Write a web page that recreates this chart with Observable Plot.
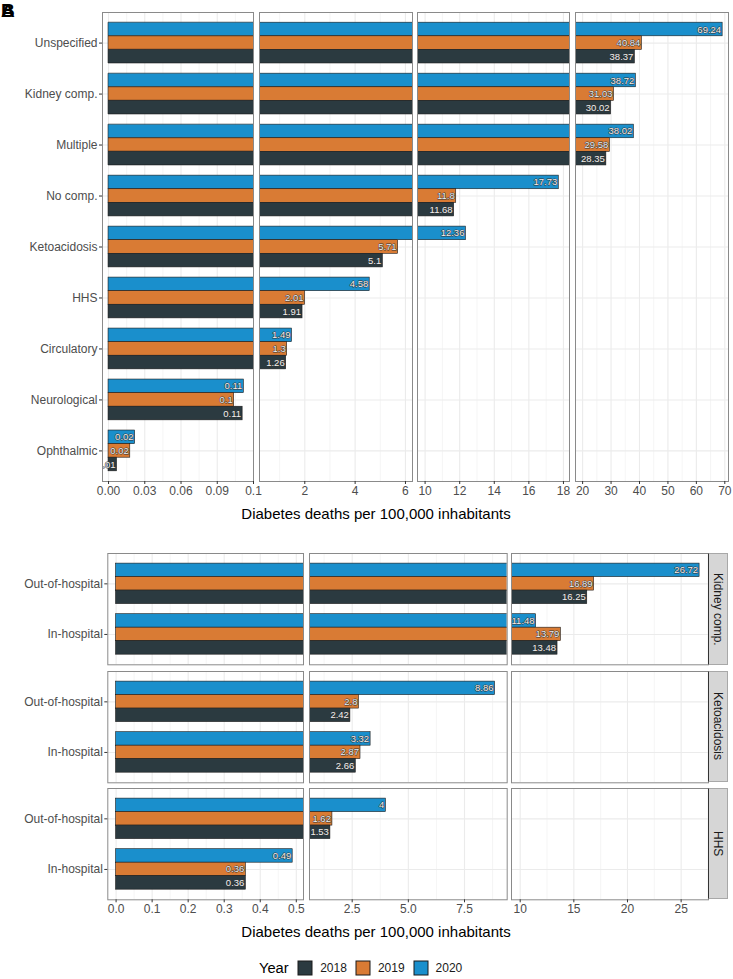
<!DOCTYPE html>
<html>
<head>
<meta charset="utf-8">
<script src="https://cdn.jsdelivr.net/npm/d3@7"></script>
<script src="https://cdn.jsdelivr.net/npm/@observablehq/plot@0.6"></script>
<style>
  body { margin: 0; background: #fff; font-family: "Liberation Sans", Arial, sans-serif; }
  #root { position: relative; width: 733px; height: 979px; overflow: hidden; }
  .title { position: absolute; font-size: 15px; color: #000; white-space: nowrap; line-height: 18px; }
  .tag { position: absolute; left: 1px; top: 1px; font-weight: bold; font-size: 19px; line-height: 19px; color: #000; }
  .strip { position: absolute; background: #d6d6d6; border: 1px solid #a8a8a8; border-left: 1px solid #333; box-sizing: border-box;
           writing-mode: vertical-rl; display: flex; align-items: center; justify-content: center; font-size: 12px; color: #1a1a1a; }
  .legendrow { position: absolute; left: 259px; top: 960px; display: flex; align-items: center; height: 16px; }
  .legendrow .ytitle { font-size: 14.7px; color: #000; margin-right: 9.5px; }
  .lg-swatches { font-family: "Liberation Sans", Arial, sans-serif !important; font-size: 12px !important; color: #1a1a1a !important; margin: 0 !important; min-height: 0 !important; }
  .lg-swatch { margin-right: 9px !important; }
  .lg-swatch > svg { margin-right: 8px !important; }
  .lg-swatch rect { stroke: #1a1a1a; stroke-width: 1; }
</style>
</head>
<body>
<div id="root"></div>
<script>
// ---------------- data ----------------
const years = ["2018", "2019", "2020"];
const yearColors = ["#2b3a40", "#d97b34", "#1a8fcc"];
const yearOrderTopDown = ["2020", "2019", "2018"];

// Panel A: deaths by complication
const causes = ["Unspecified", "Kidney comp.", "Multiple", "No comp.", "Ketoacidosis", "HHS", "Circulatory", "Neurological", "Ophthalmic"];
const causes2018 = [38.37, 30.02, 28.35, 11.68, 5.1, 1.91, 1.26, 0.111, 0.007];
const causes2019 = [40.84, 31.03, 29.58, 11.8, 5.71, 2.01, 1.3, 0.104, 0.018];
const causes2020 = [69.24, 38.72, 38.02, 17.73, 12.36, 4.58, 1.49, 0.112, 0.022];

// Panel B: place of death for three complications
const places = ["Out-of-hospital", "In-hospital"];
const facetCauses = ["Kidney comp.", "Ketoacidosis", "HHS"];
const kidney2018 = [16.25, 13.48];
const kidney2019 = [16.89, 13.79];
const kidney2020 = [26.72, 11.48];
const keto2018 = [2.42, 2.66];
const keto2019 = [2.8, 2.87];
const keto2020 = [8.86, 3.32];
const hhs2018 = [1.53, 0.36];
const hhs2019 = [1.62, 0.36];
const hhs2020 = [4, 0.49];

// broken-axis segments (domains, tick values, tick labels)
const topDomains = [[-0.005, 0.12], [0.2, 6.28], [9.56, 18.35], [17.5, 71.3]];
const topTicks = [[0, 0.03, 0.06, 0.09, 0.12], [2, 4, 6], [10, 12, 14, 16, 18], [20, 30, 40, 50, 60, 70]];
const topTickLabels = [["0.00", "0.03", "0.06", "0.09", "0.1"], ["2", "4", "6"], ["10", "12", "14", "16", "18"], ["20", "30", "40", "50", "60", "70"]];
const topMajorGrid = [[0, 0.03, 0.06, 0.09], [2, 4, 6], [10, 12, 14, 16, 18], [20, 30, 40, 50, 60, 70]];
const topMinorGrid = [[0.015, 0.045, 0.075, 0.105], [1, 3, 5], [11, 13, 15, 17], [25, 35, 45, 55, 65]];

const botDomains = [[-0.023, 0.52], [0.6, 9.4], [9.19, 27.55]];
const botTicks = [[0, 0.1, 0.2, 0.3, 0.4, 0.5], [2.5, 5, 7.5], [10, 15, 20, 25]];
const botTickLabels = [["0.0", "0.1", "0.2", "0.3", "0.4", "0.5"], ["2.5", "5.0", "7.5"], ["10", "15", "20", "25"]];
const botMinorGrid = [[0.05, 0.15, 0.25, 0.35, 0.45], [1.25, 3.75, 6.25, 8.75], [12.5, 17.5, 22.5, 27.5]];

const axisTitle = "Diabetes deaths per 100,000 inhabitants";

// ---------------- helpers ----------------
const FONT = "'Liberation Sans', Arial, sans-serif";
const fmtVal = v => String(Math.round(v * 100) / 100);
const DODGE = 0.8; // total group width in category units (like position_dodge)

// one row per bar; category index i, year position j (0 = top) -> y1/y2 in category units
function tidy(cats, a, b, c) {
  const out = [];
  const byYear = {"2018": a, "2019": b, "2020": c};
  cats.forEach((cat, i) => {
    yearOrderTopDown.forEach((year, j) => {
      const y1 = i - DODGE / 2 + j * DODGE / 3;
      out.push({cat, year, value: byYear[year][i], y1, y2: y1 + DODGE / 3});
    });
  });
  return out;
}

// the value label is drawn in the first axis segment whose range contains the bar end
function labelSegment(value, domains) {
  const k = domains.findIndex(d => value <= d[1]);
  return k < 0 ? domains.length - 1 : k;
}

function panel(o) {
  const labelMap = new Map(o.ticks.map((t, i) => [t, o.tickLabels[i]]));
  const idx = o.cats.map((_, i) => i);
  const labelled = o.data.filter(d => labelSegment(d.value, o.domains) === o.seg);
  return Plot.plot({
    width: o.marginLeft + o.frameW,
    height: o.frameH + o.marginBottom,
    marginTop: 0, marginRight: 0, marginBottom: o.marginBottom, marginLeft: o.marginLeft,
    style: {fontFamily: FONT, fontSize: "12px", overflow: "visible", background: "none"},
    x: {domain: o.domains[o.seg]},
    y: {domain: [-0.6, o.cats.length - 0.4], reverse: true},
    color: {domain: years, range: yearColors},
    marks: [
      Plot.gridX(o.minor, {stroke: "#ededed", strokeOpacity: 1, strokeWidth: 0.55}),
      Plot.gridX(o.major, {stroke: "#ebebeb", strokeOpacity: 1, strokeWidth: 1.1}),
      Plot.gridY(idx, {stroke: "#ebebeb", strokeOpacity: 1, strokeWidth: 1.1}),
      Plot.rect(o.data, {x1: () => 0, x2: "value", y1: "y1", y2: "y2", fill: "year", stroke: "#1a1a1a", strokeWidth: 0.6, clip: true}),
      Plot.text(labelled, {x: "value", y: d => (d.y1 + d.y2) / 2, text: d => fmtVal(d.value), textAnchor: "end", dx: -1.5,
        fontSize: 9.5, fill: "#f0f0f0", stroke: "#333", strokeWidth: 1, clip: true}),
      Plot.frame({stroke: "#8a8a8a", strokeWidth: 1}),
      o.showX ? Plot.axisX(o.ticks, {tickFormat: d => labelMap.get(d), tickSize: 3, tickPadding: 2,
        fill: "#4d4d4d", stroke: "#333", fontSize: 12, label: null}) : Plot.axisX([], {label: null}),
      o.showY ? Plot.axisY(idx, {tickFormat: i => o.cats[i], tickSize: 3, tickPadding: 2,
        fill: "#4d4d4d", stroke: "#333", fontSize: 12, label: null}) : Plot.axisY([], {label: null})
    ]
  });
}

const root = document.getElementById("root");
function place(el, left, top) {
  el.style.position = "absolute";
  el.style.left = left + "px";
  el.style.top = top + "px";
  root.appendChild(el);
}

// ---------------- panel A ----------------
const dataA = tidy(causes, causes2018, causes2019, causes2020);
const topLefts = [102, 259, 417, 575];
const topWidths = [151, 153, 152, 153];
const topTop = 12, topH = 469;
topLefts.forEach((left, k) => {
  const showY = k === 0;
  const svg = panel({
    data: dataA, cats: causes, domains: topDomains, seg: k, ticks: topTicks[k], tickLabels: topTickLabels[k],
    major: topMajorGrid[k], minor: topMinorGrid[k],
    frameW: topWidths[k], frameH: topH, marginLeft: showY ? left : 0, marginBottom: 24,
    showX: true, showY
  });
  place(svg, showY ? 0 : left, topTop);
});

// ---------------- panel B ----------------
const facetData = [
  tidy(places, kidney2018, kidney2019, kidney2020),
  tidy(places, keto2018, keto2019, keto2020),
  tidy(places, hhs2018, hhs2019, hhs2020)
];
const botLefts = [107.3, 309, 511.3];
const botWidths = [195.7, 197.7, 197];
const rowTops = [553.3, 670.7, 787.7];
const rowH = 111.3;
facetData.forEach((data, r) => {
  botLefts.forEach((left, c) => {
    const showY = c === 0, showX = r === facetData.length - 1;
    const svg = panel({
      data, cats: places, domains: botDomains, seg: c, ticks: botTicks[c], tickLabels: botTickLabels[c],
      major: botTicks[c], minor: botMinorGrid[c],
      frameW: botWidths[c], frameH: rowH, marginLeft: showY ? left : 0, marginBottom: showX ? 24 : 0,
      showX, showY
    });
    place(svg, showY ? 0 : left, rowTops[r]);
  });
  const strip = document.createElement("div");
  strip.className = "strip";
  strip.textContent = facetCauses[r];
  strip.style.width = "20px";
  strip.style.height = rowH + "px";
  place(strip, 708, rowTops[r]);
});

// ---------------- titles, tags, legend ----------------
[505, 923].forEach(t => {
  const d = document.createElement("div");
  d.className = "title";
  d.textContent = axisTitle;
  place(d, 376, t);
  d.style.transform = "translateX(-50%)";
});
["A", "B"].forEach(s => {
  const d = document.createElement("div");
  d.className = "tag";
  d.textContent = s;
  root.appendChild(d);
});

const legendRow = document.createElement("div");
legendRow.className = "legendrow";
const yt = document.createElement("span");
yt.className = "ytitle";
yt.textContent = "Year";
legendRow.appendChild(yt);
legendRow.appendChild(Plot.legend({color: {domain: years, range: yearColors}, swatchSize: 14, className: "lg"}));
root.appendChild(legendRow);
</script>
</body>
</html>
